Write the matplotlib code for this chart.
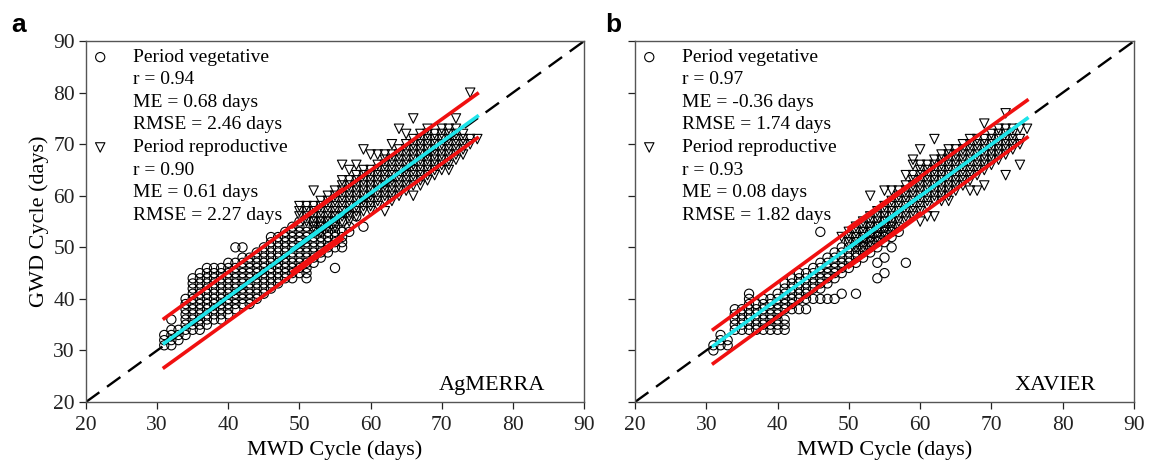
import matplotlib
matplotlib.use("Agg")
import matplotlib.pyplot as plt

plt.rcParams["font.family"] = ["Liberation Serif", "DejaVu Serif"]

# ---- panel a (AgMERRA): MWD column -> GWD values ----
veg_a_x = list(range(31, 60))
veg_a_y = [
    [31, 32, 33],
    [31, 32, 33, 34, 36],
    [32, 33, 34],
    [33, 34, 35, 36, 37, 38, 39, 40],
    [34, 35, 36, 37, 38, 39, 40, 41, 42, 43, 44],
    [34, 35, 36, 37, 38, 39, 40, 41, 42, 43, 44, 45],
    [35, 36, 37, 38, 39, 40, 41, 42, 43, 44, 45, 46],
    [36, 37, 38, 39, 40, 41, 42, 43, 44, 45, 46],
    [36, 37, 38, 39, 40, 41, 42, 43, 44, 45, 46],
    [37, 38, 39, 40, 41, 42, 43, 44, 45, 46, 47],
    [38, 39, 40, 41, 42, 43, 44, 45, 46, 47, 50],
    [39, 40, 41, 42, 43, 44, 45, 46, 47, 48, 50],
    [39, 40, 41, 42, 43, 44, 45, 46, 47, 48],
    [40, 41, 42, 43, 44, 45, 46, 47, 48, 49],
    [41, 42, 43, 44, 45, 46, 47, 48, 49, 50],
    [42, 43, 44, 45, 46, 47, 48, 49, 50, 51, 52],
    [43, 44, 45, 46, 47, 48, 49, 50, 51, 52],
    [44, 45, 46, 47, 48, 49, 50, 51, 52, 53],
    [44, 45, 46, 47, 48, 49, 50, 51, 52, 53, 54],
    [45, 46, 47, 48, 49, 50, 51, 52, 53, 54, 55],
    [44, 45, 46, 47, 48, 49, 50, 51, 52, 53, 54],
    [47, 48, 49, 50, 51, 52, 53, 54, 55],
    [48, 49, 50, 51, 52, 53, 54, 55],
    [49, 50, 51, 52, 53, 54, 55],
    [46, 50, 51, 52, 53, 54, 55, 56],
    [50, 51, 52, 53, 55],
    [53, 54],
    [56],
    [54],
]
rep_a_x = list(range(50, 76))
rep_a_y = [
    [56, 57, 58],
    [55, 56, 57, 58],
    [54, 55, 56, 57, 58, 61],
    [53, 54, 55, 56, 57, 58, 59],
    [54, 55, 56, 57, 58, 59, 60],
    [54, 55, 56, 57, 58, 59, 60, 61],
    [55, 56, 57, 58, 59, 60, 61, 62, 63, 66],
    [55, 56, 57, 58, 59, 60, 61, 62, 63, 65],
    [56, 57, 58, 59, 60, 61, 62, 63, 64, 66],
    [57, 58, 59, 60, 61, 62, 63, 64, 65, 69],
    [57, 58, 59, 60, 61, 62, 63, 64, 65, 68],
    [58, 59, 60, 61, 62, 63, 64, 65, 66, 68],
    [57, 59, 60, 61, 62, 63, 64, 65, 66, 67, 68],
    [59, 60, 61, 62, 63, 64, 65, 66, 67, 68, 70],
    [60, 61, 62, 63, 64, 65, 66, 67, 68, 69, 73],
    [61, 62, 63, 64, 65, 66, 67, 68, 69, 70, 72],
    [60, 62, 63, 64, 65, 66, 67, 68, 69, 70, 71, 75],
    [62, 63, 64, 65, 66, 67, 68, 69, 70, 71, 72],
    [63, 64, 65, 66, 67, 68, 69, 70, 71, 72, 73],
    [64, 65, 66, 67, 68, 69, 70, 71, 72],
    [65, 66, 67, 68, 69, 70, 71, 72, 73],
    [65, 66, 67, 68, 69, 70, 71, 72, 73],
    [67, 68, 69, 70, 71, 72, 73, 75],
    [68, 69, 70, 71, 72],
    [70, 71, 80],
    [71],
]

# ---- panel b (XAVIER) ----
veg_b_x = list(range(31, 59))
veg_b_y = [
    [30, 31],
    [31, 32, 33],
    [31, 32],
    [34, 35, 36, 37, 38],
    [34, 35, 36, 37, 38],
    [34, 35, 36, 37, 38, 39, 40, 41],
    [34, 35, 36, 37, 38, 39],
    [34, 35, 36, 37, 38, 39, 40],
    [34, 35, 36, 37, 38, 39, 40],
    [34, 35, 36, 37, 38, 39, 40, 41],
    [34, 35, 36, 38, 39, 40, 41, 42, 43],
    [38, 39, 40, 41, 42, 43, 44],
    [38, 40, 41, 42, 43, 44, 45],
    [38, 40, 41, 42, 43, 44, 45],
    [40, 42, 43, 44, 45, 46],
    [40, 42, 43, 44, 45, 46, 47, 53],
    [40, 43, 44, 45, 46, 47, 48],
    [40, 44, 45, 46, 47, 48, 49],
    [41, 45, 46, 47, 48, 49, 50],
    [46, 47, 48, 49, 50, 51],
    [41, 47, 48, 49, 50, 51, 52],
    [48, 49, 50, 51, 52, 53],
    [49, 50, 51, 52, 53, 54],
    [44, 47, 50, 51, 52, 53, 54],
    [45, 48, 51, 52, 53, 54, 55],
    [50, 52, 53, 54, 55],
    [53, 54],
    [47],
]
rep_b_x = list(range(49, 76))
rep_b_y = [
    [52],
    [51, 52, 53],
    [50, 51, 52, 53, 54],
    [50, 51, 52, 53, 54, 55],
    [51, 52, 53, 54, 55, 56, 60],
    [52, 53, 54, 55, 56, 57],
    [53, 54, 55, 56, 57, 58, 61],
    [54, 55, 56, 57, 58, 59, 61],
    [55, 56, 57, 58, 59, 60, 61],
    [55, 56, 57, 58, 59, 60, 61, 62, 64],
    [56, 57, 58, 59, 60, 61, 62, 63, 64, 66, 67],
    [55, 57, 58, 59, 60, 61, 62, 63, 64, 65, 66, 69],
    [56, 58, 59, 60, 61, 62, 63, 64, 65, 66],
    [56, 59, 60, 61, 62, 63, 64, 65, 66, 67, 71],
    [59, 60, 61, 62, 63, 64, 65, 66, 67, 68],
    [59, 60, 61, 62, 63, 64, 65, 66, 67, 68, 69],
    [61, 62, 63, 64, 65, 66, 67, 68, 69],
    [62, 63, 64, 65, 66, 67, 68, 69, 70],
    [61, 63, 64, 65, 66, 67, 68, 69, 70, 71],
    [61, 64, 65, 66, 67, 68, 69, 70, 71],
    [62, 65, 66, 67, 68, 69, 70, 71, 74],
    [66, 67, 68, 69, 70, 71, 72],
    [67, 68, 69, 70, 71, 72, 73],
    [64, 68, 69, 70, 71, 72, 73, 76],
    [69, 70, 71, 72, 73],
    [66, 70, 71, 73],
    [73],
]

# regression lines and bands, end points
fit_a = {
    "veg_x": [31, 56], "veg_fit": [31.4, 56.4], "veg_up": [36.2, 61.2], "veg_lo": [26.7, 51.6],
    "rep_x": [49, 75], "rep_fit": [49.6, 75.4], "rep_up": [54.0, 79.8], "rep_lo": [45.3, 71.2],
}
fit_b = {
    "veg_x": [31, 60], "veg_fit": [30.9, 60.0], "veg_up": [34.1, 63.4], "veg_lo": [27.5, 56.6],
    "rep_x": [50, 75], "rep_fit": [49.9, 75.0], "rep_up": [53.8, 78.5], "rep_lo": [46.2, 71.3],
}
stats_a = ["r = 0.94", "ME = 0.68 days", "RMSE = 2.46 days",
           "r = 0.90", "ME = 0.61 days", "RMSE = 2.27 days"]
stats_b = ["r = 0.97", "ME = -0.36 days", "RMSE = 1.74 days",
           "r = 0.93", "ME = 0.08 days", "RMSE = 1.82 days"]


def flat(xs, cols):
    px, py = [], []
    for x, ys in zip(xs, cols):
        for y in ys:
            px.append(x)
            py.append(y)
    return px, py


def panel(ax, veg, rep, fit, stats, name, letter, ylab):
    ax.plot([20, 90], [20, 90], color="black", linestyle=(0, (7, 4)), linewidth=1.7, zorder=1)
    vx, vy = flat(*veg)
    rx, ry = flat(*rep)
    ax.scatter(vx, vy, s=44, facecolors="none", edgecolors="black", linewidths=0.8, zorder=2)
    ax.scatter(rx, ry, s=46, marker="v", facecolors="none", edgecolors="black",
               linewidths=0.8, zorder=3)
    for k in ("veg", "rep"):
        xs = fit[k + "_x"]
        ax.plot(xs, fit[k + "_fit"], color="#1ee4ea", linewidth=2.6, zorder=4)
        ax.plot(xs, fit[k + "_up"], color="#f01010", linewidth=2.6, zorder=5)
        ax.plot(xs, fit[k + "_lo"], color="#f01010", linewidth=2.6, zorder=5)

    # legend block
    y0, dy = 86.9, 4.38
    ax.scatter([22.0], [y0], s=44, facecolors="none", edgecolors="black", linewidths=0.8)
    ax.scatter([22.0], [y0 - 4 * dy], s=46, marker="v", facecolors="none",
               edgecolors="black", linewidths=0.8)
    lines = ["Period vegetative"] + stats[:3] + ["Period reproductive"] + stats[3:]
    for i, t in enumerate(lines):
        ax.text(26.6, y0 - i * dy, t, fontsize=14, va="center", ha="left")

    ax.text(84.6, 22.3, name, fontsize=16, ha="right", va="baseline")
    ax.text(-0.15 if ylab else -0.06, 1.045, letter, transform=ax.transAxes,
            fontsize=19, fontweight="bold", family="Liberation Sans", va="center")

    ax.set_xlim(20, 90)
    ax.set_ylim(20, 90)
    ax.set_xticks(range(20, 91, 10))
    ax.set_yticks(range(20, 91, 10))
    ax.tick_params(labelsize=15.5, direction="out", length=5, width=0.9, colors="#222222", pad=3)
    ax.tick_params(axis="x", pad=5)
    for s in ax.spines.values():
        s.set_color("#555555")
        s.set_linewidth(1.0)
    ax.set_xlabel("MWD Cycle (days)", fontsize=16, labelpad=4)
    if ylab:
        ax.set_ylabel("GWD Cycle (days)", fontsize=16, labelpad=3)
    else:
        ax.set_yticklabels([])


fig = plt.figure(figsize=(11.51, 4.65), dpi=100)
ax_a = fig.add_axes([0.0747, 0.1355, 0.4327, 0.776])
ax_b = fig.add_axes([0.5517, 0.1355, 0.4335, 0.776])
panel(ax_a, (veg_a_x, veg_a_y), (rep_a_x, rep_a_y), fit_a, stats_a, "AgMERRA", "a", True)
panel(ax_b, (veg_b_x, veg_b_y), (rep_b_x, rep_b_y), fit_b, stats_b, "XAVIER", "b", False)

fig.savefig("out.png", dpi=100)
